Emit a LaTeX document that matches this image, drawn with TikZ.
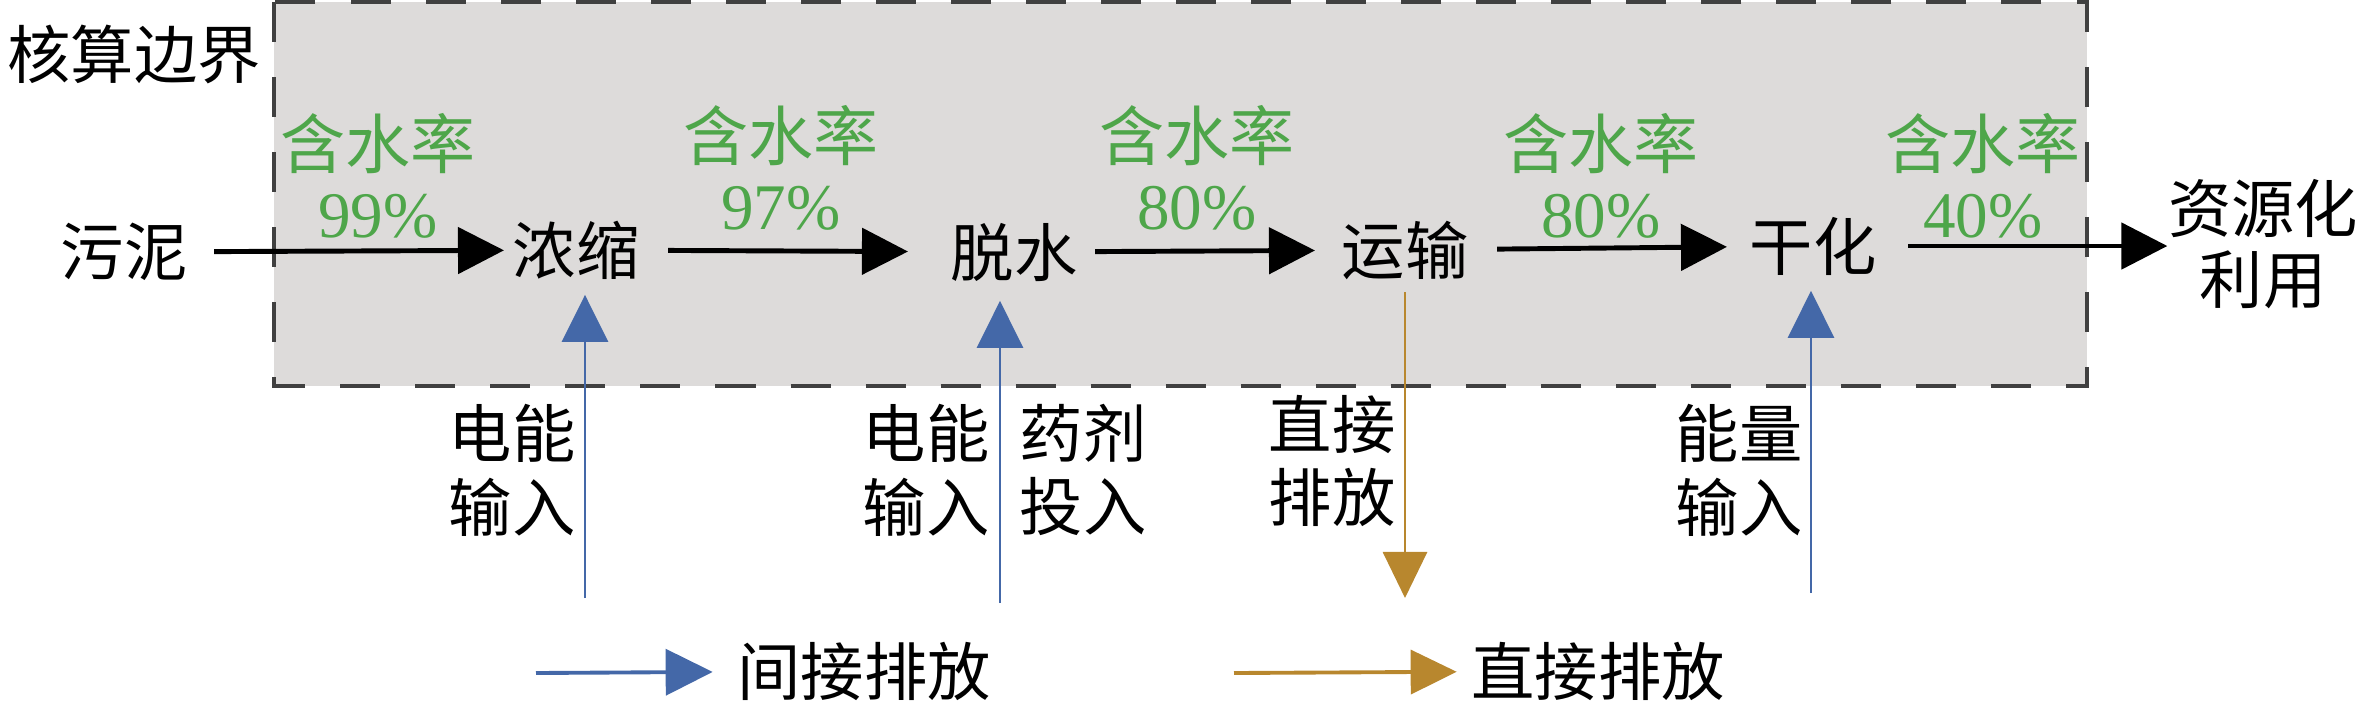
\documentclass[tikz,border=0pt]{standalone}
\usepackage{fontspec}
\setmainfont{Liberation Serif}
\newfontfamily\cjk{Noto Sans CJK SC}
\usetikzlibrary{arrows.meta}
\definecolor{boxgray}{HTML}{DDDBDA}
\definecolor{edgegray}{HTML}{404040}
\definecolor{rategreen}{HTML}{4EA64A}
\definecolor{indblue}{HTML}{4468A8}
\definecolor{dirbrown}{HTML}{B8872E}
\begin{document}
\begin{tikzpicture}[x=0.01cm,y=-0.01cm,
    txt/.style={font=\cjk\fontsize{18}{21}\selectfont,inner sep=0pt,align=center},
    rate/.style={text=rategreen,font=\fontsize{18.5}{19.5}\selectfont,inner sep=0pt,align=center},
    flow/.style={line width=1.4pt,-{Triangle[length=0.46cm,width=0.46cm]},shorten <=0.28cm,shorten >=0.22cm},
    indir/.style={indblue,line width=0.8pt,-{Triangle[length=0.47cm,width=0.46cm]},shorten >=0.15cm},
    direct/.style={dirbrown,line width=0.8pt,-{Triangle[length=0.46cm,width=0.44cm]},shorten <=0.12cm}]
  \useasboundingbox (0,0) rectangle (2365,705);
  \draw[fill=boxgray,draw=edgegray,line width=1.1pt,dash pattern=on 0.4cm off 0.35cm] (274,2) rectangle (2087,386);
  \node[txt] (bound) at (134,54) {核算边界};
  % process chain
  \node[txt] (wuni) at (124,252) {污泥};
  \node[txt] (nongsuo) at (576,250) {浓缩};
  \node[txt] (tuoshui) at (1014,252) {脱水};
  \node[txt] (yunshu) at (1405,250) {运输};
  \node[txt] (ganhua) at (1813,246) {干化};
  \node[txt,font=\cjk\fontsize{18}{20.2}\selectfont] (ziyuan) at (2263,244) {资源化\\利用};
  \draw[flow,shorten <=0.26cm,shorten >=0.08cm] (wuni) -- (nongsuo);
  \draw[flow,shorten >=0.42cm] (nongsuo) -- (tuoshui);
  \draw[flow,shorten <=0.17cm,shorten >=0.26cm] (tuoshui) -- (yunshu);
  \draw[flow] (yunshu) -- (ganhua);
  \draw[flow,shorten <=0.31cm,shorten >=0cm] (ganhua) -- (ziyuan.west |- ganhua);
  % water content
  \node[rate] (r1) at (378,176) {{\cjk 含水率}\\99\%};
  \node[rate] (r2) at (781,168) {{\cjk 含水率}\\97\%};
  \node[rate] (r3) at (1197,168) {{\cjk 含水率}\\80\%};
  \node[rate] (r4) at (1601,176) {{\cjk 含水率}\\80\%};
  \node[rate] (r5) at (1983,176) {{\cjk 含水率}\\40\%};
  % inputs and emissions
  \coordinate (e1) at (585,598);
  \coordinate (e2) at (1000,603);
  \coordinate (e3) at (1811,593);
  \coordinate (d1) at (1405,598);
  \draw[indir] (e1) -- (e1 |- nongsuo.south);
  \draw[indir,shorten >=0.19cm] (e2) -- (e2 |- tuoshui.south);
  \draw[indir] (e3) -- (e3 |- ganhua.south);
  \draw[direct] (yunshu.south) -- (yunshu.south |- d1);
  \node[txt] (dn1) at (512,470) {电能\\输入};
  \node[txt] (dn2) at (926,470) {电能\\输入};
  \node[txt] (yaoji) at (1083,470) {药剂\\投入};
  \node[txt] (zhijie) at (1332,461) {直接\\排放};
  \node[txt] (nengl) at (1739,470) {能量\\输入};
  % legend
  \coordinate (l1) at (536,673);
  \coordinate (l2) at (1234,673);
  \node[txt] (jjpf) at (864,671) {间接排放};
  \node[txt] (zjpf) at (1598,671) {直接排放};
  \draw[indir,line width=1.1pt,shorten >=0.24cm] (l1) -- (jjpf);
  \draw[direct,line width=1.1pt,shorten <=0cm,shorten >=0.14cm] (l2) -- (zjpf);
\end{tikzpicture}
\end{document}
